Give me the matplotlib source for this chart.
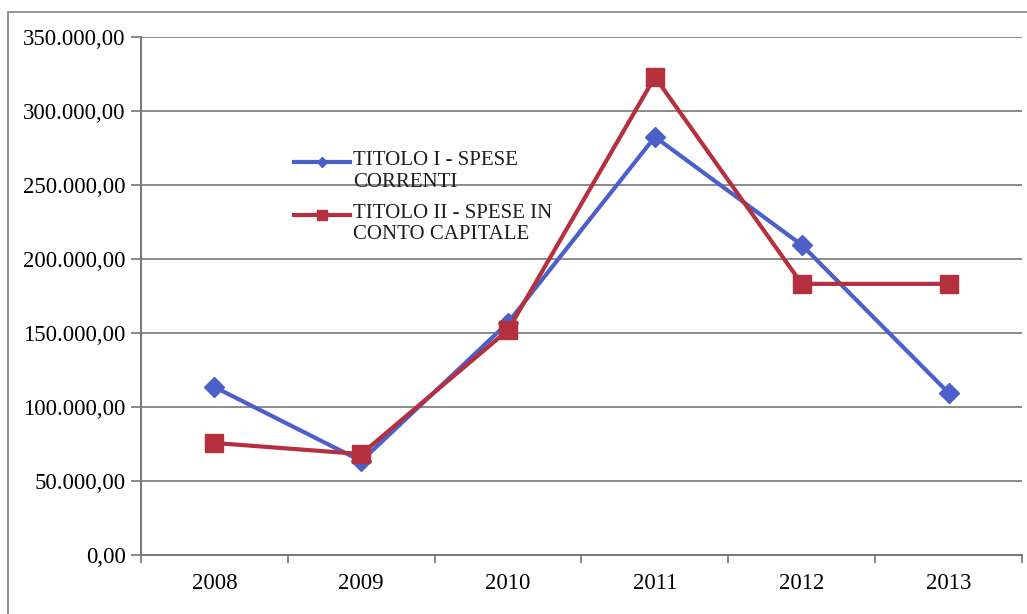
import matplotlib
matplotlib.use("Agg")
import matplotlib.pyplot as plt
from matplotlib.patches import Rectangle
from matplotlib.ticker import FuncFormatter, MultipleLocator
from matplotlib.legend_handler import HandlerLine2D

years = ["2008", "2009", "2010", "2011", "2012", "2013"]
spese_correnti = [113500, 63500, 157000, 282500, 209500, 109500]
spese_capitale = [75700, 68200, 152000, 323000, 183200, 183200]
label_correnti = "TITOLO I - SPESE\nCORRENTI"
label_capitale = "TITOLO II - SPESE IN\nCONTO CAPITALE"

blue = "#4b60c8"
red = "#b5303f"

plt.rcParams["font.family"] = ["Liberation Serif", "DejaVu Serif"]
plt.rcParams["text.color"] = "#1e1e1e"


class FirstLineHandler(HandlerLine2D):
    """Legend handle aligned with the first line of a two-line label."""

    def create_artists(self, legend, orig_handle, xdescent, ydescent,
                       width, height, fontsize, trans):
        return super().create_artists(legend, orig_handle, xdescent,
                                      ydescent - 0.88 * fontsize, width,
                                      height, fontsize, trans)


W, H = 1027, 614
fig = plt.figure(figsize=(W / 100, H / 100), dpi=100)
ax = fig.add_axes([141 / W, 1 - 555 / H, (1022 - 141) / W, (555 - 37) / H])

x = list(range(len(years)))
l1, = ax.plot(x, spese_correnti, color=blue, lw=3.0, marker="D", ms=10,
              markeredgecolor=blue, label=label_correnti, zorder=3)
l2, = ax.plot(x, spese_capitale, color=red, lw=3.0, marker="s", ms=13,
              markeredgecolor=red, label=label_capitale, zorder=3)

ax.set_xlim(-0.5, len(years) - 0.5)
ax.set_ylim(0, 350000)
ax.yaxis.set_major_locator(MultipleLocator(50000))


def it_fmt(v, pos):
    s = f"{v:,.2f}"
    return s.replace(",", "X").replace(".", ",").replace("X", ".")


ax.yaxis.set_major_formatter(FuncFormatter(it_fmt))
ax.set_xticks(x)
ax.set_xticklabels(years)
ax.set_xticks([i - 0.5 for i in range(len(years) + 1)], minor=True)
ax.tick_params(axis="x", which="major", length=0, pad=13, labelsize=16.5)
ax.tick_params(axis="x", which="minor", length=6, width=1.2, color="#777777", direction="out")
ax.tick_params(axis="y", length=7, width=1.2, color="#777777", labelsize=16.5, pad=4)

ax.grid(axis="y", color="#8a8a8a", lw=1.4)
ax.set_axisbelow(True)
for side in ("top", "right"):
    ax.spines[side].set_visible(False)
for side in ("left", "bottom"):
    ax.spines[side].set_color("#777777")
    ax.spines[side].set_linewidth(1.4)

ax.legend(handles=[l1, l2],
          loc="upper left",
          bbox_to_anchor=((284 - 141) / (1022 - 141), 1 - (141 - 37) / (555 - 37)),
          frameon=False, fontsize=15, handlelength=2.65, handletextpad=0.15,
          labelspacing=0.55, markerscale=0.55, borderpad=0,
          handler_map={l1: FirstLineHandler(), l2: FirstLineHandler()})

fig.patches.append(Rectangle((8 / W, -0.05), 1.1, 1 - 12 / H + 0.05,
                             transform=fig.transFigure, fill=False,
                             edgecolor="#8a8a8a", lw=1.3))

fig.savefig("out.png", dpi=100, facecolor="white")
